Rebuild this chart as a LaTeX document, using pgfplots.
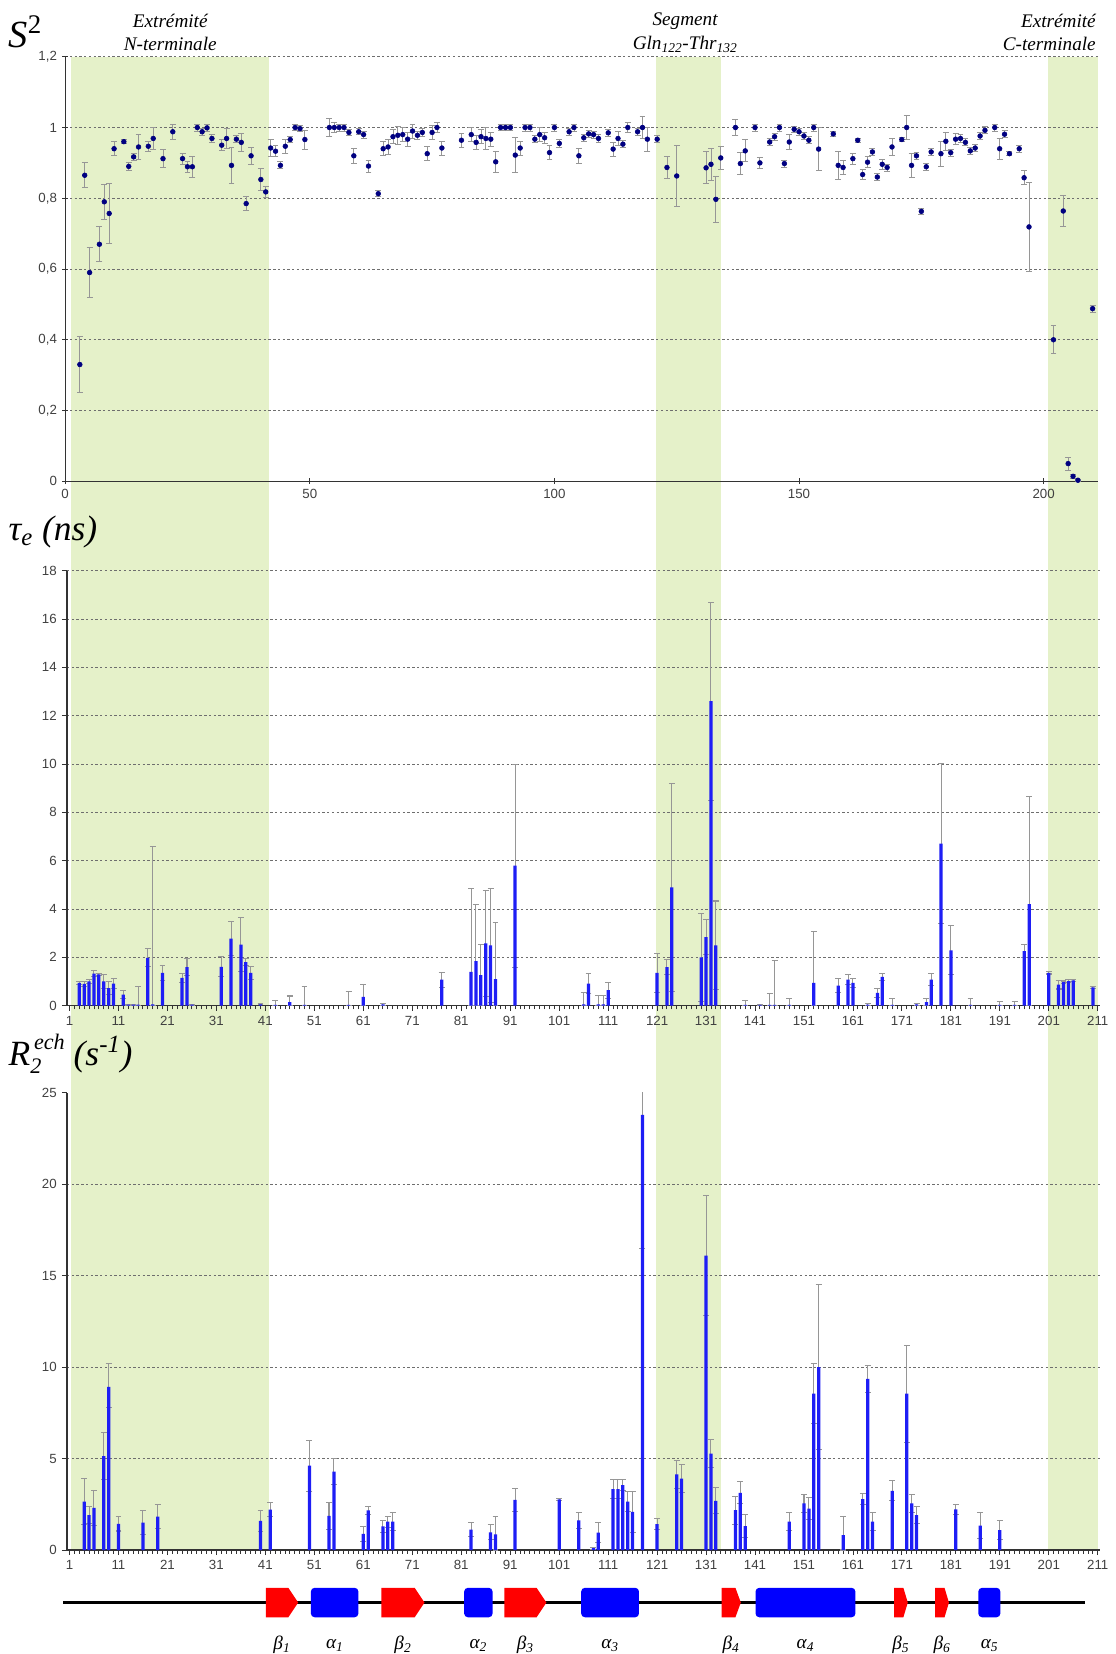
\documentclass[border=0pt]{standalone}
\usepackage{pgfplots}
\pgfplotsset{compat=1.18}
\usepackage{pgfplotstable}
\usepackage{fontspec}
\setmainfont{Liberation Serif}
\setsansfont{Liberation Sans}
\definecolor{bandgreen}{RGB}{229,241,201}
\definecolor{ptblue}{RGB}{0,0,128}
\definecolor{barblue}{RGB}{30,30,245}
\definecolor{errgray}{RGB}{150,150,150}
\definecolor{gridgray}{RGB}{110,110,110}

\pgfplotstableread{
x y e
3 0.33 0.08
4 0.865 0.035
5 0.59 0.07
7 0.67 0.05
8 0.79 0.05
9 0.757 0.085
10 0.94 0.02
12 0.96 0.005
13 0.89 0.01
14 0.917 0.01
15 0.945 0.035
17 0.947 0.015
18 0.969 0.03
20 0.912 0.025
22 0.988 0.022
24 0.912 0.015
25 0.889 0.015
26 0.889 0.03
27 1.0 0.01
28 0.988 0.01
29 0.999 0.01
30 0.969 0.01
32 0.95 0.015
33 0.969 0.028
34 0.893 0.05
35 0.967 0.01
36 0.958 0.025
37 0.785 0.02
38 0.92 0.025
40 0.853 0.03
41 0.818 0.015
42 0.942 0.025
43 0.933 0.015
44 0.893 0.01
45 0.947 0.02
46 0.966 0.008
47 1.0 0.008
48 0.997 0.008
49 0.966 0.027
54 1.0 0.026
55 1.0 0.015
56 1.0 0.01
57 1.0 0.01
58 0.986 0.008
59 0.92 0.022
60 0.988 0.008
61 0.98 0.01
62 0.891 0.017
64 0.813 0.008
65 0.94 0.02
66 0.945 0.02
67 0.974 0.02
68 0.978 0.025
69 0.98 0.02
70 0.967 0.02
71 0.99 0.02
72 0.978 0.012
73 0.986 0.01
74 0.926 0.02
75 0.986 0.02
76 1.0 0.015
77 0.942 0.02
81 0.964 0.02
83 0.98 0.02
84 0.958 0.02
85 0.974 0.02
86 0.969 0.03
87 0.967 0.02
88 0.903 0.03
89 1.0 0.008
90 1.0 0.008
91 1.0 0.008
92 0.922 0.05
93 0.942 0.02
94 1.0 0.01
95 1.0 0.01
96 0.967 0.01
97 0.98 0.02
98 0.971 0.015
99 0.929 0.02
100 1.0 0.01
101 0.955 0.01
103 0.988 0.01
104 1.0 0.01
105 0.92 0.022
106 0.971 0.01
107 0.982 0.01
108 0.98 0.01
109 0.969 0.01
111 0.985 0.01
112 0.939 0.02
113 0.969 0.02
114 0.953 0.01
115 1.0 0.015
117 0.988 0.01
118 1.0 0.03
119 0.967 0.034
121 0.967 0.01
123 0.887 0.03
125 0.863 0.085
131 0.886 0.045
132 0.896 0.045
133 0.797 0.065
134 0.914 0.032
137 1.0 0.022
138 0.898 0.031
139 0.934 0.031
141 1.0 0.01
142 0.9 0.015
144 0.959 0.01
145 0.974 0.01
146 1.0 0.01
147 0.898 0.01
148 0.959 0.02
149 0.995 0.008
150 0.988 0.01
151 0.976 0.01
152 0.964 0.01
153 1.0 0.01
154 0.939 0.06
157 0.982 0.008
158 0.893 0.04
159 0.887 0.02
161 0.912 0.015
162 0.964 0.005
163 0.867 0.015
164 0.902 0.015
165 0.931 0.01
166 0.86 0.01
167 0.896 0.015
168 0.887 0.01
169 0.945 0.025
171 0.966 0.005
172 1.0 0.035
173 0.893 0.033
174 0.92 0.01
175 0.763 0.008
176 0.889 0.01
177 0.931 0.01
179 0.926 0.035
180 0.961 0.025
181 0.929 0.01
182 0.967 0.015
183 0.969 0.01
184 0.958 0.01
185 0.934 0.01
186 0.942 0.01
187 0.976 0.01
188 0.992 0.01
190 1.0 0.01
191 0.94 0.03
192 0.981 0.01
193 0.926 0.005
195 0.94 0.01
196 0.858 0.02
197 0.719 0.125
202 0.40 0.04
204 0.764 0.045
205 0.05 0.018
206 0.014 0.005
207 0.003 0.003
210 0.488 0.01
}\dataS

\pgfplotstableread{
x y ep em
3 0.94 0.05 0.05
4 0.90 0.10 0.10
5 1.00 0.10 0.10
6 1.33 0.14 0.14
7 1.29 0.06 0.06
8 1.00 0.30 0.30
9 0.73 0.27 0.27
10 0.91 0.20 0.20
12 0.46 0.16 0.16
13 0.04 0.02 0.02
14 0.04 0.02 0.02
15 0.04 0.76 0.04
17 1.98 0.37 0.37
18 0.05 6.55 0.05
20 1.36 0.32 0.32
24 1.15 0.18 0.18
25 1.59 0.35 0.35
26 0.04 0.02 0.02
32 1.61 0.41 0.41
34 2.77 0.70 0.70
36 2.53 1.10 1.10
37 1.80 0.14 0.14
38 1.36 0.27 0.27
40 0.05 0.02 0.02
43 0.03 0.17 0.03
46 0.15 0.25 0.15
49 0.03 0.75 0.03
58 0.03 0.57 0.03
61 0.36 0.50 0.36
65 0.05 0.03 0.03
77 1.08 0.31 0.31
83 1.40 3.45 1.40
84 1.84 2.36 1.84
85 1.26 1.27 1.26
86 2.58 2.20 2.20
87 2.49 2.36 2.36
88 1.10 2.33 1.10
92 5.79 4.20 4.20
106 0.05 0.50 0.05
107 0.91 0.42 0.42
109 0.05 0.37 0.05
110 0.05 0.37 0.05
111 0.64 0.33 0.33
121 1.36 0.80 0.80
123 1.59 0.32 0.32
124 4.89 4.31 4.31
130 2.00 1.82 1.82
131 2.84 0.73 0.73
132 12.60 4.10 4.10
133 2.49 1.84 1.84
139 0.03 0.17 0.03
142 0.03 0.03 0.03
144 0.03 0.47 0.03
145 0.03 1.82 0.03
148 0.03 0.25 0.03
153 0.94 2.11 0.94
158 0.83 0.29 0.29
160 1.08 0.21 0.21
161 0.94 0.18 0.18
164 0.04 0.03 0.03
166 0.53 0.20 0.20
167 1.19 0.14 0.14
169 0.03 0.25 0.03
174 0.05 0.05 0.05
176 0.15 0.13 0.13
177 1.08 0.25 0.25
179 6.70 3.30 3.30
181 2.29 1.01 1.01
185 0.03 0.25 0.03
191 0.03 0.15 0.03
194 0.03 0.15 0.03
196 2.26 0.27 0.27
197 4.20 4.45 4.20
201 1.36 0.05 0.05
203 0.87 0.18 0.18
204 0.97 0.05 0.05
205 1.02 0.05 0.05
206 1.05 0.05 0.05
210 0.76 0.05 0.05
}\dataT

\pgfplotstableread{
x y ep em
4 2.65 1.25 1.25
5 1.91 0.45 0.45
6 2.31 0.96 0.96
8 5.14 1.31 1.31
9 8.92 1.28 1.15
11 1.43 0.39 0.39
16 1.50 0.67 0.67
19 1.82 0.67 0.67
40 1.59 0.58 0.58
42 2.21 0.40 0.40
50 4.61 1.39 1.39
54 1.86 0.75 0.75
55 4.29 0.71 0.71
61 0.88 0.41 0.41
62 2.17 0.22 0.22
65 1.29 0.35 0.35
66 1.55 0.30 0.30
67 1.55 0.48 0.48
83 1.11 0.39 0.39
87 0.97 0.41 0.41
88 0.85 0.97 0.85
92 2.74 0.62 0.62
101 2.77 0.05 0.05
105 1.62 0.42 0.42
108 0.10 0.05 0.05
109 0.95 0.55 0.55
112 3.33 0.52 0.52
113 3.33 0.52 0.52
114 3.55 0.30 0.30
115 2.64 0.56 0.56
116 2.09 1.11 1.11
118 23.80 7.30 7.30
121 1.42 0.31 0.31
125 4.13 0.77 0.77
126 3.90 0.77 0.77
131 16.10 3.30 3.30
132 5.27 0.77 0.77
133 2.69 0.71 0.71
137 2.18 0.77 0.77
138 3.13 0.60 0.60
139 1.31 0.64 0.64
148 1.55 0.50 0.50
151 2.55 0.50 0.50
152 2.27 0.60 0.60
153 8.55 1.65 1.65
154 10.00 4.50 4.50
159 0.82 1.00 0.82
163 2.78 0.31 0.31
164 9.36 0.74 0.74
165 1.55 0.50 0.50
169 3.24 0.54 0.54
172 8.55 2.65 2.65
173 2.55 0.50 0.50
174 1.91 0.45 0.45
182 2.22 0.29 0.29
187 1.33 0.72 0.72
191 1.09 0.51 0.51
}\dataR

\pgfplotsset{
  panel/.style={
    scale only axis, anchor=south west,
    axis x line=bottom, axis y line=left,
    axis line style={-, black!80, line width=0.8pt},
    tick style={black!80, line width=0.6pt},
    ymajorgrids,
    grid style={dash pattern=on 1.6pt off 1.6pt, gridgray, line width=0.5pt},
    tick label style={font=\sffamily\fontsize{9}{10}\selectfont, text=black!75},
    /pgf/number format/assume math mode=true,
    clip mode=individual,
  },
  errs/.style={draw=none, mark=none, forget plot,
    error bars/.cd, y dir=both, y explicit,
    error bar style={draw=errgray, line width=0.7pt},
    error mark options={rotate=90, draw=errgray, mark size=2pt, line width=0.7pt}},
  bars/.style={ybar, bar width=2.2pt, fill=barblue, draw=none},
}

\begin{document}
\begin{tikzpicture}
\begin{scope}[x=0.25mm,y=-0.25mm]
\useasboundingbox (0,0) rectangle (1062,1568);
\fill[bandgreen] (68,54) rectangle (256,1475);
\fill[bandgreen] (624,54) rectangle (686,1475);
\fill[bandgreen] (997,54) rectangle (1045,1475);
\node[anchor=base west, inner sep=0pt, font=\fontsize{26}{28}\selectfont] at (8,45) {\textit{S}\textsuperscript{2}};
\node[anchor=base west, inner sep=0pt, font=\fontsize{24}{26}\selectfont\itshape] at (8,514) {τ\textsubscript{e} (ns)};
\node[anchor=base west, inner sep=0pt, font=\fontsize{24}{26}\selectfont\itshape] at (8,1014) {R\rlap{\raisebox{-0.5ex}{\fontsize{15}{16}\selectfont 2}}\raisebox{1.0ex}{\fontsize{15}{16}\selectfont\,ech} (s\textsuperscript{-1})};
\node[align=center, font=\fontsize{13}{16}\selectfont\itshape, inner sep=0pt] at (162,31) {Extrémité\\N-terminale};
\node[align=center, font=\fontsize{13}{16}\selectfont\itshape, inner sep=0pt] at (652,31) {Segment\\Gln\textsubscript{122}-Thr\textsubscript{132}};
\node[align=right, anchor=east, font=\fontsize{13}{16}\selectfont\itshape, inner sep=0pt] at (1043,31) {Extrémité\\C-terminale};
\end{scope}

% Panel 1: S2
\begin{axis}[panel, at={(1.55cm,-11.45cm)}, width=24.56cm, height=10.1cm,
  xmin=0, xmax=211, ymin=0, ymax=1.2,
  xtick={0,50,...,200}, ytick={0,0.2,0.4,0.6,0.8,1,1.2},
  yticklabels={0,{0,2},{0,4},{0,6},{0,8},1,{1,2}},
  tick align=center, major tick length=4pt]
\addplot[only marks, mark=*, mark size=1.6pt, ptblue,
  error bars/.cd, y dir=both, y explicit,
  error bar style={errgray, line width=0.6pt},
  error mark options={rotate=90, errgray, mark size=2pt, line width=0.6pt}]
  table[x=x, y=y, y error=e]{\dataS};
\end{axis}

% Panel 2: tau_e
\begin{axis}[panel, at={(1.595cm,-23.925cm)}, width=24.58cm, height=10.35cm,
  xmin=0.5, xmax=211.5, ymin=0, ymax=18,
  xtick={1,11,...,211}, minor x tick num=9, ytick={0,2,...,18},
  tick align=outside, major tick length=3.5pt, minor tick length=2.5pt]
\addplot[errs] table[x=x, y=y, y error plus=ep, y error minus=em]{\dataT};
\addplot[bars] table[x=x, y=y]{\dataT};
\end{axis}

% Panel 3: R2ech
\begin{axis}[panel, at={(1.595cm,-36.875cm)}, width=24.58cm, height=10.875cm,
  xmin=0.5, xmax=211.5, ymin=0, ymax=25,
  xtick={1,11,...,211}, minor x tick num=9, ytick={0,5,...,20},
  extra y ticks={25}, extra y tick style={grid=none},
  tick align=outside, major tick length=3.5pt, minor tick length=2.5pt]
\addplot[errs] table[x=x, y=y, y error plus=ep, y error minus=em]{\dataR};
\addplot[bars] table[x=x, y=y]{\dataR};
\end{axis}

% Secondary structure
\begin{axis}[at={(1.595cm,-38.475cm)}, anchor=south west, scale only axis,
  width=24.58cm, height=0.7cm, xmin=0.5, xmax=211.5, ymin=0, ymax=1,
  hide axis, clip=false]
\draw[black, line width=2.6pt] (axis cs:-0.3,0.5) -- (axis cs:208.3,0.5);
\fill[red] (axis cs:41.1,0) -- (axis cs:45.7,0) -- (axis cs:47.7,0.5) -- (axis cs:45.7,1) -- (axis cs:41.1,1) -- cycle;
\fill[red] (axis cs:64.7,0) -- (axis cs:71.5,0) -- (axis cs:73.5,0.5) -- (axis cs:71.5,1) -- (axis cs:64.7,1) -- cycle;
\fill[red] (axis cs:89.8,0) -- (axis cs:96.4,0) -- (axis cs:98.4,0.5) -- (axis cs:96.4,1) -- (axis cs:89.8,1) -- cycle;
\fill[red] (axis cs:134.2,0) -- (axis cs:137.0,0) -- (axis cs:138.1,0.5) -- (axis cs:137.0,1) -- (axis cs:134.2,1) -- cycle;
\fill[red] (axis cs:169.4,0) -- (axis cs:171.3,0) -- (axis cs:172.2,0.5) -- (axis cs:171.3,1) -- (axis cs:169.4,1) -- cycle;
\fill[red] (axis cs:177.8,0) -- (axis cs:179.7,0) -- (axis cs:180.6,0.5) -- (axis cs:179.7,1) -- (axis cs:177.8,1) -- cycle;
\fill[blue, rounded corners=2.5pt] (axis cs:50.3,0) rectangle (axis cs:60.0,1);
\fill[blue, rounded corners=2.5pt] (axis cs:81.6,0) rectangle (axis cs:87.4,1);
\fill[blue, rounded corners=2.5pt] (axis cs:105.5,0) rectangle (axis cs:117.3,1);
\fill[blue, rounded corners=2.5pt] (axis cs:141.1,0) rectangle (axis cs:161.5,1);
\fill[blue, rounded corners=2.5pt] (axis cs:186.6,0) rectangle (axis cs:191.1,1);
\begin{scope}[every node/.style={font=\fontsize{13}{14}\selectfont\itshape, inner sep=0pt}]
\node at (axis cs:44.4,-0.95) {β\textsubscript{1}};
\node at (axis cs:55.2,-0.95) {α\textsubscript{1}};
\node at (axis cs:69.1,-0.95) {β\textsubscript{2}};
\node at (axis cs:84.5,-0.95) {α\textsubscript{2}};
\node at (axis cs:94.1,-0.95) {β\textsubscript{3}};
\node at (axis cs:111.4,-0.95) {α\textsubscript{3}};
\node at (axis cs:136.1,-0.95) {β\textsubscript{4}};
\node at (axis cs:151.3,-0.95) {α\textsubscript{4}};
\node at (axis cs:170.8,-0.95) {β\textsubscript{5}};
\node at (axis cs:179.2,-0.95) {β\textsubscript{6}};
\node at (axis cs:188.9,-0.95) {α\textsubscript{5}};
\end{scope}
\end{axis}
\end{tikzpicture}
\end{document}
